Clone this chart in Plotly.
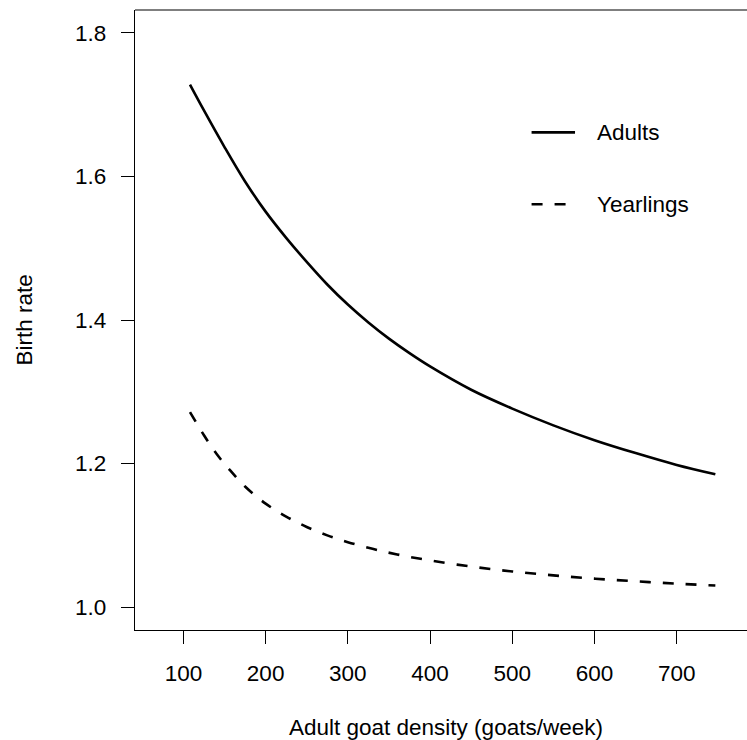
import plotly.graph_objects as go

# Data
adult_x = [108, 125, 150, 175, 200, 225, 250, 275, 300, 325, 350, 375, 400, 450, 500,
           550, 600, 650, 700, 747]
adult_y = [1.728, 1.692, 1.641, 1.593, 1.551, 1.5145, 1.481, 1.4495, 1.4215, 1.3965, 1.374,
           1.3538, 1.3353, 1.3028, 1.2765, 1.2532, 1.2325, 1.2145, 1.198, 1.185]

year_x = [108, 125, 140, 155, 175, 200, 225, 250, 275, 300, 330, 360, 400, 450, 500,
          550, 600, 650, 700, 747]
year_y = [1.2717, 1.2394, 1.2139, 1.1929, 1.1679, 1.1441, 1.1261, 1.1116, 1.0999, 1.0904,
          1.0811, 1.0733, 1.0649, 1.0564, 1.0496, 1.0441, 1.0396, 1.0359, 1.0326, 1.030]

x_ticks = [100, 200, 300, 400, 500, 600, 700]
y_ticks = [1.0, 1.2, 1.4, 1.6, 1.8]
y_tick_text = ["1.0", "1.2", "1.4", "1.6", "1.8"]

legend_labels = ["Adults", "Yearlings"]

FONT = "Liberation Sans, Arial, Helvetica, sans-serif"
FS = 22.5
DASH = "11px,12px"

fig = go.Figure()
fig.add_trace(go.Scatter(x=adult_x, y=adult_y, mode="lines", name=legend_labels[0],
                         line=dict(color="black", width=2.6, shape="spline", smoothing=1.0),
                         showlegend=False))
fig.add_trace(go.Scatter(x=year_x, y=year_y, mode="lines", name=legend_labels[1],
                         line=dict(color="black", width=2.6, dash=DASH, shape="spline", smoothing=1.0),
                         showlegend=False))

# manual legend (paper coordinates)
leg_y = [0.8027, 0.6866]
fig.add_shape(type="line", xref="paper", yref="paper", x0=0.648, x1=0.719, y0=leg_y[0], y1=leg_y[0],
              line=dict(color="black", width=2.6))
fig.add_shape(type="line", xref="paper", yref="paper", x0=0.648, x1=0.719, y0=leg_y[1], y1=leg_y[1],
              line=dict(color="black", width=2.6, dash=DASH))
for lab, yy in zip(legend_labels, leg_y):
    fig.add_annotation(text=lab, xref="paper", yref="paper", x=0.7515, y=yy, xanchor="left",
                       yanchor="middle", showarrow=False, font=dict(family=FONT, size=FS, color="black"))

# top border
fig.add_shape(type="line", xref="paper", yref="paper", x0=0, x1=1, y0=1, y1=1,
              line=dict(color="black", width=1.2))

# axis titles
fig.add_annotation(text="Adult goat density (goats/week)", xref="paper", yref="paper",
                   x=0.5078, y=-0.158, xanchor="center", yanchor="middle", showarrow=False,
                   font=dict(family=FONT, size=FS, color="black"))
fig.add_annotation(text="Birth rate", xref="paper", yref="paper", x=-0.1807, y=0.5,
                   xanchor="center", yanchor="middle", textangle=-90, showarrow=False,
                   font=dict(family=FONT, size=FS, color="black"))

fig.update_xaxes(range=[41.13, 785.5], tickvals=x_ticks, ticks="outside", ticklen=13, tickwidth=1.2,
                 tickcolor="black", showline=True, linecolor="black", linewidth=1.2, showgrid=False,
                 zeroline=False, tickfont=dict(family=FONT, size=FS, color="black"),
                 ticklabelstandoff=10)
fig.update_yaxes(range=[0.968, 1.832], tickvals=y_ticks, ticktext=y_tick_text, ticks="outside",
                 ticklen=13, tickwidth=1.2, tickcolor="black", showline=True, linecolor="black",
                 linewidth=1.2, showgrid=False, zeroline=False,
                 tickfont=dict(family=FONT, size=FS, color="black"), ticklabelstandoff=10)

fig.update_layout(width=747, height=740, margin=dict(l=135, r=0, t=10, b=110),
                  plot_bgcolor="white", paper_bgcolor="white", showlegend=False)

fig.write_html("out.html")
